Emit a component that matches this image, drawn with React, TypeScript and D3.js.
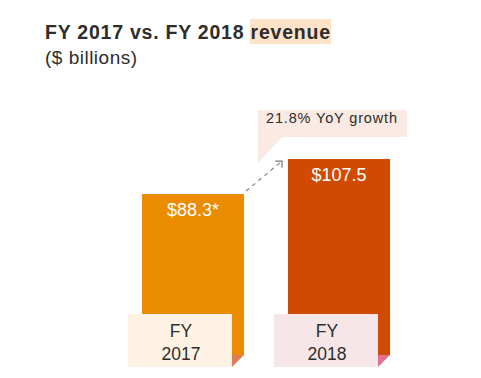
import React from "react";
import * as d3 from "d3";

const categories = ["FY 2017", "FY 2018"];
const values = [88.3, 107.5];
const valueLabels = ["$88.3*", "$107.5"];
const catLines = [["FY", "2017"], ["FY", "2018"]];
const barColors = ["#EB8C00", "#D04A02"];
const labelBoxColors = ["#FDF2E3", "#F6E6E7"];
const foldColors = ["#DD7E5A", "#E27090"];
const growthLabel = "21.8% YoY growth";

const W = 481;
const H = 378;
const FONT = "'Liberation Sans', Arial, Helvetica, sans-serif";

export default function App() {
  const x = d3.scaleBand<string>().domain(categories).range([142, 390]).paddingInner(44 / 146).paddingOuter(0);
  const y = d3.scaleLinear().domain([0, 120]).range([355, 355 - 120 * 1.823]);
  const bw = x.bandwidth();
  const base = y(0);

  const x1 = x(categories[0])! + bw;
  const y1 = y(values[0]);
  const x2 = x(categories[1])!;
  const y2 = y(values[1]);

  return (
    <svg width={W} height={H} style={{ position: "absolute", left: 0, top: 0, background: "#fff" }}>
      <defs>
        <marker id="arr" viewBox="0 0 10 10" refX="9" refY="1" markerWidth="8" markerHeight="8" orient="0">
          <path d="M2,1 L9,1 L9,8" fill="none" stroke="#777" strokeWidth="1.3" />
        </marker>
      </defs>
      {/* title */}
      <rect x={250} y={19} width={81} height={25} fill="#FEE3C8" />
      <text x={45} y={39} fontFamily={FONT} fontSize={19.5} fontWeight="bold" fill="#2d2d2d" textLength={285} lengthAdjust="spacing">
        FY 2017 vs. FY 2018 revenue
      </text>
      <text x={45} y={64} fontFamily={FONT} fontSize={19} fill="#2d2d2d" textLength={92} lengthAdjust="spacing">
        ($ billions)
      </text>

      {/* callout */}
      <path d="M258,110 L407,110 L407,137 L282,137 L258,163 Z" fill="#FAEAE3" />
      <text x={266} y={123} fontFamily={FONT} fontSize={14.5} fill="#2d2d2d" textLength={131} lengthAdjust="spacing">
        {growthLabel}
      </text>

      {/* bars */}
      {categories.map((c, i) => {
        const bx = x(c)!;
        const by = y(values[i]);
        return (
          <g key={c}>
            <rect x={bx} y={by} width={bw} height={base - by} fill={barColors[i]} />
            <text x={bx + bw / 2} y={by + 22} textAnchor="middle" fontFamily={FONT} fontSize={18} fill="#fff">
              {valueLabels[i]}
            </text>
            <path
              d={`M${bx - 14},314 L${bx + bw - 12},314 L${bx + bw - 12},367 L${bx - 14},367 Z`}
              fill={labelBoxColors[i]}
            />
            <path d={`M${bx + bw - 12},${base} L${bx + bw},${base} L${bx + bw - 12},367 Z`} fill={foldColors[i]} />
            {catLines[i].map((t, j) => (
              <text
                key={j}
                x={bx + bw / 2 - 12}
                y={337 + j * 23}
                textAnchor="middle"
                fontFamily={FONT}
                fontSize={17.5}
                fill="#2d2d2d"
              >
                {t}
              </text>
            ))}
          </g>
        );
      })}

      {/* arrow */}
      <line
        x1={x1 + 2}
        y1={y1 - 3}
        x2={x2 - 6}
        y2={y2 + 2}
        stroke="#888"
        strokeWidth={1.2}
        strokeDasharray="4,4"
        markerEnd="url(#arr)"
      />
    </svg>
  );
}
